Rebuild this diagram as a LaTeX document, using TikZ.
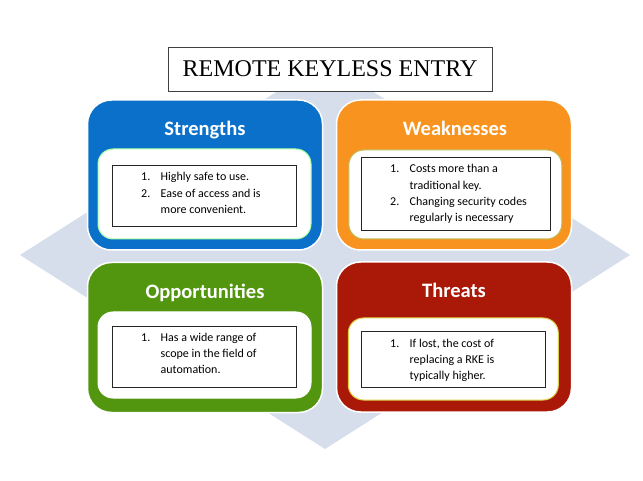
\documentclass[tikz,border=0pt]{standalone}
\usepackage{fontspec}
\setmainfont{Carlito}
\newfontfamily\titlefont{Liberation Serif}
\usetikzlibrary{positioning}
\tikzset{>=latex}
\definecolor{swotblue}{RGB}{10,112,202}
\definecolor{swotorange}{RGB}{247,147,30}
\definecolor{swotgreen}{RGB}{82,150,16}
\definecolor{swotred}{RGB}{170,24,8}
\definecolor{backblue}{RGB}{214,222,236}
\newcommand{\itemfont}{\fontsize{12}{16.2}\selectfont}
\newcommand{\points}[1]{\itemfont\begin{tabular}[t]{@{}p{19.5pt}@{}l@{}}#1\end{tabular}}

\begin{document}
\begin{tikzpicture}[x=1pt,y=-1pt,
  quad/.style={fill=#1, draw=white, line width=1.5pt, rounded corners=24pt,
    minimum width=235pt, minimum height=150pt, inner sep=0pt},
  panel/.style={fill=white, draw=#1, line width=1pt, rounded corners=15pt, inner sep=0pt},
  itembox/.style={fill=white, draw=black!85, line width=0.8pt, inner sep=0pt},
  heading/.style={text=white, font=\bfseries\fontsize{20.5}{20.5}\selectfont, anchor=base},
  points/.style={anchor=base west, inner sep=0pt}]
  \useasboundingbox (0,0) rectangle (643,481);
  % backdrop
  \fill[backblue] (20,255) -- (325,61) -- (630,255) -- (325,449) -- cycle;
  % title
  \node[draw=black!75, fill=white, line width=0.9pt, minimum width=324pt,
    minimum height=44pt, inner sep=0pt] (title) at (330,69)
    {\titlefont\fontsize{24}{24}\selectfont REMOTE KEYLESS ENTRY};

  % the four quadrants
  \node[quad=swotblue] (str) at (205,175) {};
  \node[quad=swotorange] (weak) at (454,175) {};
  \node[quad=swotgreen] (opp) at (205,337.5) {};
  \node[quad=swotred] (thr) at (454,337) {};

  \node[heading] (strhead) at (205,136) {Strengths};
  \node[heading] (weakhead) at (455,136) {Weaknesses};
  \node[heading] (opphead) at (205,298.5) {Opportunities};
  \node[heading] (thrhead) at (454,298) {Threats};

  \node[panel=green!35!white, minimum width=213pt, minimum height=90pt] (strpanel) at (204.5,194) {};
  \node[panel=olive!55!white, minimum width=213pt, minimum height=89pt] (weakpanel) at (455.3,194.5) {};
  \node[panel=white, minimum width=213pt, minimum height=86pt] (opppanel) at (204.5,355) {};
  \node[panel=olive!50!yellow!70!white, minimum width=210pt, minimum height=82pt] (thrpanel) at (453.3,359) {};

  \node[itembox, minimum width=184pt, minimum height=61pt] (strbox) at (204.7,195.5) {};
  \node[itembox, minimum width=189pt, minimum height=73pt] (weakbox) at (456,193.5) {};
  \node[itembox, minimum width=184pt, minimum height=61pt] (oppbox) at (204.7,356.5) {};
  \node[itembox, minimum width=184pt, minimum height=56pt] (thrbox) at (453.7,359) {};

  \node[points] (strtext) at (141,181) {\points{1. & Highly safe to use.\\
    2. & Ease of access and is\\ & more convenient.}};
  \node[points] (weaktext) at (390,173) {\points{1. & Costs more than a\\
    & traditional key.\\ 2. & Changing security codes\\ & regularly is necessary}};
  \node[points] (opptext) at (141,341.5) {\points{1. & Has a wide range of\\
    & scope in the field of\\ & automation.}};
  \node[points] (thrtext) at (390,347) {\points{1. & If lost, the cost of\\
    & replacing a RKE is\\ & typically higher.}};
\end{tikzpicture}
\end{document}
